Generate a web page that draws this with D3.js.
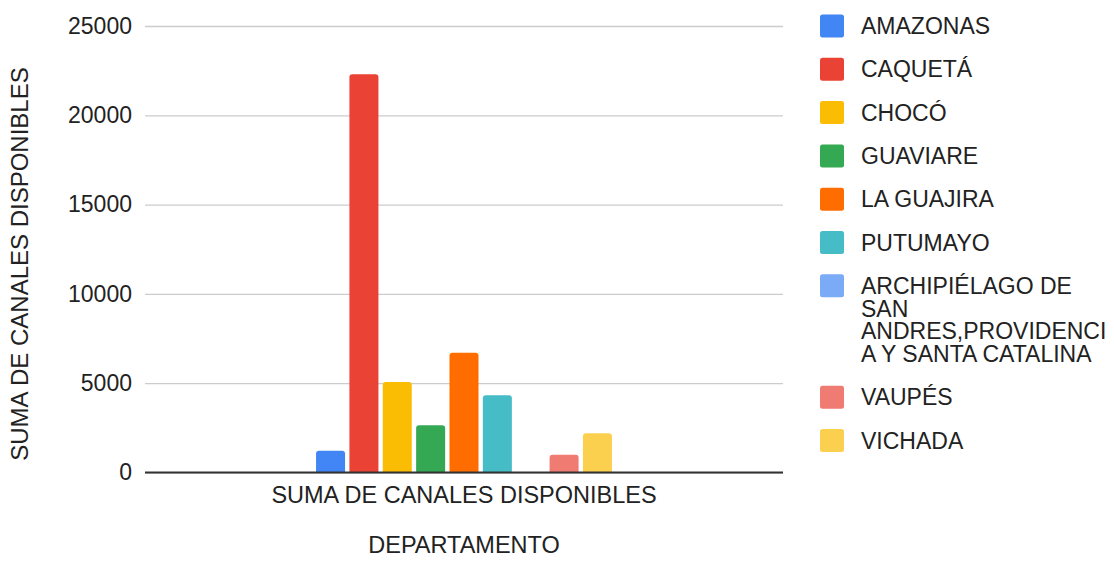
<!DOCTYPE html>
<html>
<head>
<meta charset="utf-8">
<script src="https://cdn.jsdelivr.net/npm/d3@7"></script>
<style>
  html, body { margin: 0; padding: 0; background: #fff; }
  svg { display: block; font-family: "Liberation Sans", Arial, sans-serif; }
</style>
</head>
<body>
<svg id="chart" width="1114" height="563"></svg>
<script>
// Channels available per department
const categories = ["SUMA DE CANALES DISPONIBLES"];
const departments = [
  "AMAZONAS", "CAQUETÁ", "CHOCÓ", "GUAVIARE", "LA GUAJIRA", "PUTUMAYO",
  "ARCHIPIÉLAGO DE SAN ANDRES,PROVIDENCIA Y SANTA CATALINA", "VAUPÉS", "VICHADA"
];
const values = [1220, 22300, 5070, 2640, 6710, 4320, 0, 1000, 2200];
const legendLines = [
  ["AMAZONAS"], ["CAQUETÁ"], ["CHOCÓ"], ["GUAVIARE"], ["LA GUAJIRA"], ["PUTUMAYO"],
  ["ARCHIPIÉLAGO DE", "SAN", "ANDRES,PROVIDENCI", "A Y SANTA CATALINA"],
  ["VAUPÉS"], ["VICHADA"]
];
const colors = ["#4285F4", "#EA4335", "#FBBC04", "#34A853", "#FF6D01", "#46BDC6", "#7BAAF7", "#F07B72", "#FCD04F"];
const yTicks = [0, 5000, 10000, 15000, 20000, 25000];

const svg = d3.select("#chart");
const plot = { left: 145, right: 783, top: 26, bottom: 472.5 };
const fontSize = 23;
const titleSize = 23.5;

const y = d3.scaleLinear().domain([0, 25000]).range([plot.bottom, plot.top]);
const x0 = d3.scaleBand().domain(categories).range([plot.left, plot.right])
  .paddingInner(0).paddingOuter(0.578);
const x1 = d3.scaleBand().domain(departments).range([0, x0.bandwidth()])
  .paddingInner(0.13).paddingOuter(0);
const color = d3.scaleOrdinal().domain(departments).range(colors);

// Gridlines and y tick labels
const yAxis = d3.axisLeft(y).tickValues(yTicks).tickSize(-(plot.right - plot.left)).tickPadding(13).tickFormat(d3.format("d"));
const gy = svg.append("g").attr("transform", `translate(${plot.left},0)`).call(yAxis);
gy.select(".domain").remove();
gy.selectAll(".tick line").attr("stroke", "#cccccc").attr("stroke-width", 1.3);
gy.selectAll(".tick text").attr("fill", "#222").style("font-size", fontSize + "px")
  .attr("font-family", "Liberation Sans, Arial, sans-serif");

// Bars with rounded tops
function barPath(bx, by, w, h, r) {
  if (h <= 0) return "";
  r = Math.min(r, h, w / 2);
  return `M${bx},${by + h}V${by + r}Q${bx},${by} ${bx + r},${by}H${bx + w - r}Q${bx + w},${by} ${bx + w},${by + r}V${by + h}Z`;
}
const data = departments.map((d, i) => ({ dept: d, value: values[i], cat: categories[0] }));
svg.append("g").selectAll("path").data(data).join("path")
  .attr("d", d => {
    const bx = x0(d.cat) + x1(d.dept);
    const by = y(d.value);
    return barPath(bx, by, x1.bandwidth(), y(0) - by, 3);
  })
  .attr("fill", d => color(d.dept));

// Baseline
svg.append("line")
  .attr("x1", plot.left).attr("x2", plot.right)
  .attr("y1", y(0)).attr("y2", y(0))
  .attr("stroke", "#333").attr("stroke-width", 2);

// Category axis
const xAxis = d3.axisBottom(x0).tickSize(0).tickPadding(14);
const gx = svg.append("g").attr("transform", `translate(0,${y(0)})`).call(xAxis);
gx.select(".domain").remove();
gx.selectAll(".tick text").attr("fill", "#222").style("font-size", titleSize + "px")
  .attr("font-family", "Liberation Sans, Arial, sans-serif");

// Axis titles
svg.append("text")
  .attr("x", (plot.left + plot.right) / 2).attr("y", 553)
  .attr("text-anchor", "middle").attr("fill", "#222").style("font-size", titleSize + "px")
  .text("DEPARTAMENTO");
svg.append("text")
  .attr("transform", `translate(28,264) rotate(-90)`)
  .attr("text-anchor", "middle").attr("fill", "#222").style("font-size", (titleSize + 0.5) + "px")
  .text("SUMA DE CANALES DISPONIBLES");

// Legend
const lineH = 22.7, itemGap = 43.3;
let ly = 26;
const legend = svg.append("g");
legendLines.forEach((lines, i) => {
  const g = legend.append("g").attr("transform", `translate(0,${ly})`);
  g.append("rect").attr("x", 820).attr("y", -11.5).attr("width", 24).attr("height", 23)
    .attr("rx", 2.5).attr("fill", colors[i]);
  const t = g.append("text").attr("x", 861).attr("fill", "#222").style("font-size", fontSize + "px");
  lines.forEach((ln, j) => {
    t.append("tspan").attr("x", 861).attr("y", j * lineH).attr("dy", "0.35em").text(ln);
  });
  ly += (lines.length - 1) * lineH + itemGap;
});
</script>
</body>
</html>
